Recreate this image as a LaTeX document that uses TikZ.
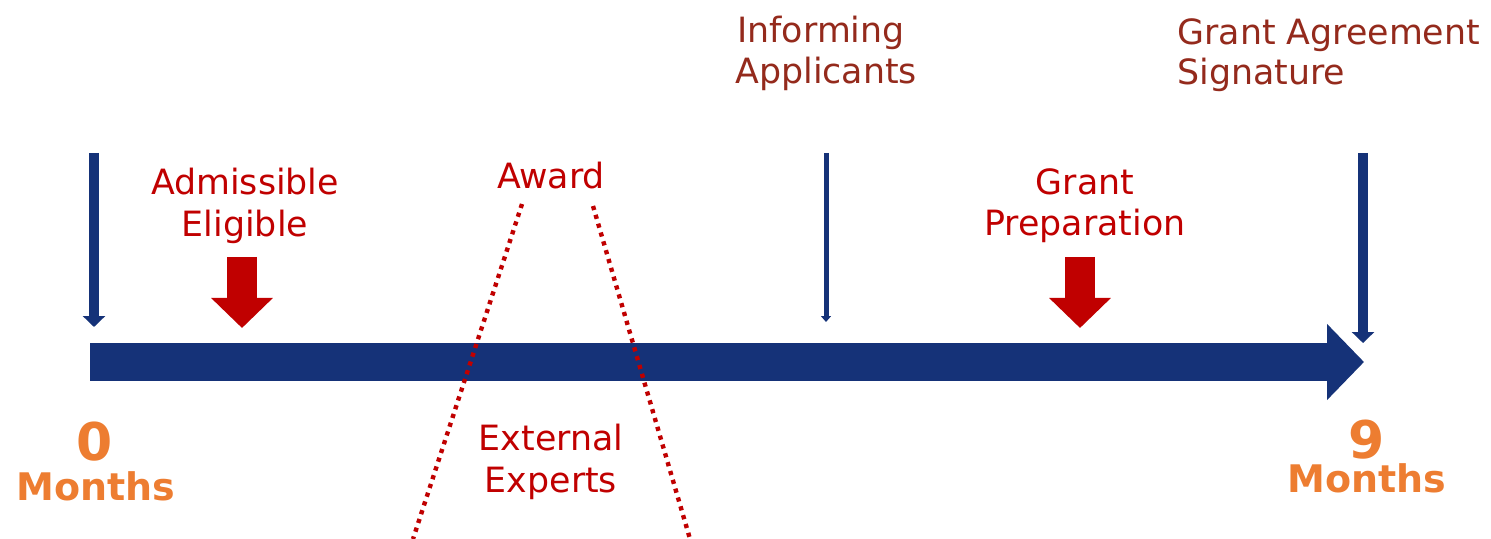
\documentclass[tikz,border=0pt]{standalone}
\usepackage{fontspec}
\setmainfont{DejaVu Sans}
\usetikzlibrary{arrows.meta}
\definecolor{navy}{RGB}{21,50,120}
\definecolor{bred}{RGB}{192,0,0}
\definecolor{brown}{RGB}{148,42,28}
\definecolor{orng}{RGB}{237,125,49}
\tikzset{
  lbl/.style={inner sep=0pt, anchor=base, font=\fontsize{17.4}{20.5}\selectfont},
  redlbl/.style={lbl, text=bred},
  brlbl/.style={lbl, text=brown, anchor=base west},
  numlbl/.style={inner sep=0pt, anchor=base, text=orng, font=\fontsize{26}{30}\bfseries\selectfont},
  monlbl/.style={inner sep=0pt, anchor=base, text=orng, font=\fontsize{19}{23}\bfseries\selectfont},
  timeline/.style={draw=navy, line width=19pt, -{Triangle[width=37pt,length=18.5pt]}},
  thickdown/.style={draw=navy, line width=5pt, -{Triangle[width=11pt,length=5.5pt]}},
  thindown/.style={draw=navy, line width=2.5pt, -{Triangle[width=5pt,length=3pt]}},
  blockdown/.style={draw=bred, line width=15pt, -{Triangle[width=30pt,length=15pt]}},
  dotline/.style={draw=bred, line width=2.2pt, dash pattern=on 2.1pt off 2.5pt}
}
\begin{document}
\begin{tikzpicture}[x=0.5pt,y=-0.5pt]
\useasboundingbox (0,0) rectangle (1491,539);
% timeline
\coordinate (tl0) at (90,362);
\coordinate (tl1) at (1364,362);
\draw[timeline] (tl0) -- (tl1);
% navy down arrows
\coordinate (a0s) at (94,153);
\coordinate (a0e) at (94,327);
\draw[thickdown] (a0s) -- (a0e);
\coordinate (a1s) at (826,153);
\coordinate (a1e) at (826,322);
\draw[thindown] (a1s) -- (a1e);
\coordinate (a2s) at (1363,153);
\coordinate (a2e) at (1363,343);
\draw[thickdown] (a2s) -- (a2e);
% red block arrows
\coordinate (r1s) at (242,257);
\coordinate (r1e) at (242,328);
\draw[blockdown] (r1s) -- (r1e);
\coordinate (r2s) at (1080,257);
\coordinate (r2e) at (1080,328);
\draw[blockdown] (r2s) -- (r2e);
% dotted lines
\coordinate (d1s) at (522,204);
\coordinate (d1e) at (413,539);
\draw[dotline] (d1s) -- (d1e);
\coordinate (d2s) at (593,206);
\coordinate (d2e) at (690,539);
\draw[dotline] (d2s) -- (d2e);
% labels
\node[redlbl] (adm) at (245,195) {Admissible};
\node[redlbl] (eli) at (245,237) {Eligible};
\node[redlbl] (awd) at (551,189) {Award};
\node[redlbl] (ext) at (551,450) {External};
\node[redlbl] (exp) at (551,492) {Experts};
\node[redlbl] (grt) at (1085,195) {Grant};
\node[redlbl] (prp) at (1085,236) {Preparation};
\node[brlbl] (inf) at (737,43) {Informing};
\node[brlbl] (app) at (735,84) {Applicants};
\node[brlbl] (gra) at (1177,45) {Grant Agreement};
\node[brlbl] (sig) at (1177,85) {Signature};
\node[numlbl] (n0) at (95,460) {0};
\node[monlbl] (m0) at (96,500) {Months};
\node[numlbl] (n9) at (1367,458) {9};
\node[monlbl] (m9) at (1367,492) {Months};
\end{tikzpicture}
\end{document}
